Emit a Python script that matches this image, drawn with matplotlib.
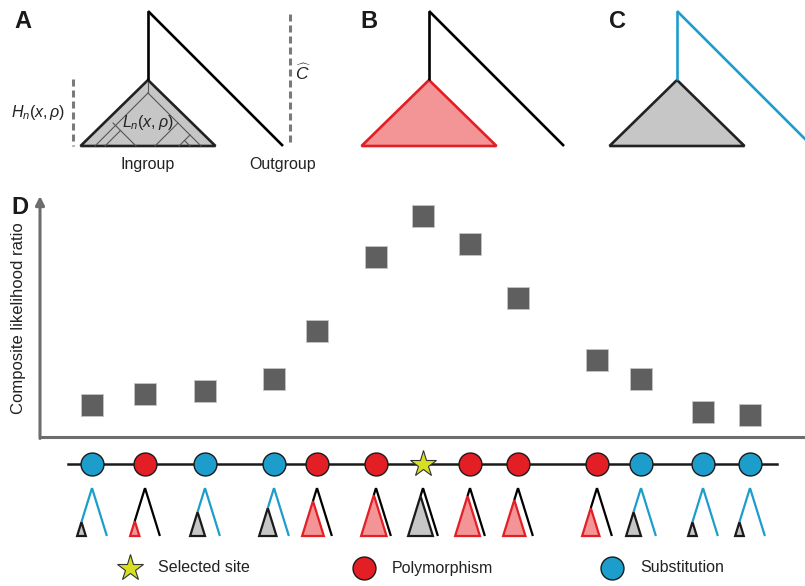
import matplotlib.pyplot as plt
from matplotlib.patches import Polygon

plt.rcParams['font.family'] = ['Liberation Sans', 'DejaVu Sans']
plt.rcParams['mathtext.fontset'] = 'custom'
plt.rcParams['mathtext.rm'] = 'Liberation Sans'
plt.rcParams['mathtext.it'] = 'Liberation Sans:italic'
plt.rcParams['mathtext.bf'] = 'Liberation Sans:bold'

# sites along the sequence (x position, same units as the figure width)
site_pos = [92, 145, 205, 274, 317, 376, 423, 470, 518, 597, 641, 703, 750]
site_kind = ['sub', 'poly', 'sub', 'sub', 'poly', 'poly', 'sel',
             'poly', 'poly', 'poly', 'sub', 'sub', 'sub']
# composite likelihood ratio at each site (relative units)
clr = [0.135, 0.181, 0.194, 0.245, 0.447, 0.759, 0.932,
       0.814, 0.586, 0.325, 0.245, 0.105, 0.093]
# height of the ingroup subtree in the little genealogy under each site
ingroup_h = [14, 15, 24, 28, 35, 41, 40, 40, 36, 28, 24, 14, 14]

legend_labels = ['Selected site', 'Polymorphism', 'Substitution']

BLUE = '#1c9dcc'
RED = '#e31e24'
LRED = '#f39597'
GRAY = '#c6c6c6'
STAR = '#d7df23'
AXC = '#6d6d6d'
SQ = '#5e5f5e'

W, H = 805, 586
fig = plt.figure(figsize=(W / 100, H / 100), dpi=100)

# ---- panel D: likelihood ratio along the sequence
axd = fig.add_axes([40 / W, (H - 437) / H, (W - 40) / W, (437 - 196) / H])
axd.set_xlim(40, W)
axd.set_ylim(0, 241 / 237)
axd.axis('off')
axd.plot(site_pos, clr, ls='none', marker='s', ms=15.6, color=SQ,
         mec='#c4c4c4', mew=0.6, clip_on=False)
axd.annotate('', xy=(0, 1.0), xytext=(0, -0.006), xycoords='axes fraction',
             arrowprops=dict(arrowstyle='-|>', lw=2.2, color=AXC,
                             mutation_scale=13, shrinkA=0, shrinkB=0))
axd.plot([0, 1], [0, 0], transform=axd.transAxes, color=AXC, lw=2.2,
         clip_on=False, solid_capstyle='butt')

# ---- overlay in pixel units for the schematic parts
ax = fig.add_axes([0, 0, 1, 1])
ax.set_xlim(0, W)
ax.set_ylim(H, 0)
ax.axis('off')


def big_tree(x0, leg_col, tri_fc, tri_ec, top=11, apex=80, base=146, half=67.5):
    ax.plot([x0, x0], [top, apex], color=leg_col, lw=1.9, solid_capstyle='butt')
    d = base - top
    ax.plot([x0, x0 + d], [top, base], color=leg_col, lw=1.9, solid_capstyle='butt',
            clip_on=False)
    ax.add_patch(Polygon([(x0, apex), (x0 - half, base), (x0 + half, base)],
                         closed=True, fc=tri_fc, ec=tri_ec, lw=1.9, joinstyle='miter'))


big_tree(148, 'black', GRAY, '#222222')
big_tree(429, 'black', LRED, RED)
big_tree(677, BLUE, GRAY, '#222222')

# genealogy lines inside the ingroup of panel A
inner = [
    [(148, 82), (148, 93)],
    [(148, 93), (95, 146)],
    [(148, 93), (201, 146)],
    [(113, 123), (136, 146)],
    [(105, 146), (120.5, 130.5)],
    [(178, 123), (155, 146)],
    [(190, 135), (179, 146)],
    [(184.5, 140.5), (190, 146)],
]
for seg in inner:
    ax.plot([p[0] for p in seg], [p[1] for p in seg], color='#555555', lw=0.8)

ax.plot([73, 73], [79, 146], color='#7a7a7a', lw=2.2, dashes=(2.3, 1.3))
ax.plot([290, 290], [14, 146], color='#7a7a7a', lw=2.2, dashes=(2.3, 1.3))

fs = 11.5
ax.text(38, 113, r'$H_n(x,\rho)$', fontsize=fs, ha='center', va='center', color='#222222')
ax.text(148, 123, r'$L_n(x,\rho)$', fontsize=fs, ha='center', va='center', color='#222222')
ax.text(303, 73, r'$\widehat{C}$', fontsize=12.5, ha='center', va='center', color='#222222')
ax.text(148, 165, 'Ingroup', fontsize=fs, ha='center', va='center', color='#222222')
ax.text(283, 165, 'Outgroup', fontsize=fs, ha='center', va='center', color='#222222')

for lab, x, y in [('A', 23, 22), ('B', 369, 22), ('C', 617, 22), ('D', 20, 207)]:
    ax.text(x, y, lab, fontsize=17, fontweight='bold', ha='center', va='center',
            color='#1a1a1a')

ax.text(19, 318, 'Composite likelihood ratio', fontsize=12, rotation=90,
        ha='center', va='center', color='#222222')

# ---- sequence with sites
ax.plot([68, 777], [464, 464], color='#1a1a1a', lw=1.8, zorder=2)
for x, k in zip(site_pos, site_kind):
    if k == 'sel':
        ax.plot(x, 464, marker='*', ms=20, color=STAR, mec='#333333', mew=0.8, zorder=3)
    else:
        ax.plot(x, 464, marker='o', ms=16.5, color=BLUE if k == 'sub' else RED,
                mec='#1a1a1a', mew=1.0, zorder=3)


def mini_tree(cx, h, kind, top=488, bot=536, s=0.31):
    leg = BLUE if kind == 'sub' else 'black'
    if kind == 'poly':
        fc, ec = LRED, RED
    else:
        fc, ec = GRAY, '#1a1a1a'
    ty = bot - h
    tx = cx - s * (ty - top)
    ax.plot([cx, cx + s * (bot - top)], [top, bot], color=leg, lw=1.6,
            solid_capstyle='butt')
    ax.plot([cx, tx], [top, ty], color=leg, lw=1.6, solid_capstyle='butt')
    ax.add_patch(Polygon([(tx, ty), (tx - s * h, bot), (tx + s * h, bot)], closed=True,
                         fc=fc, ec=ec, lw=1.6, joinstyle='miter'))


for x, h, k in zip(site_pos, ingroup_h, site_kind):
    mini_tree(x, h, k)

# ---- legend
ax.plot(130, 568, marker='*', ms=20, color=STAR, mec='#333333', mew=0.8)
ax.plot(364, 568, marker='o', ms=16.5, color=RED, mec='#1a1a1a', mew=1.0)
ax.plot(612, 568, marker='o', ms=16.5, color=BLUE, mec='#1a1a1a', mew=1.0)
for lab, x in zip(legend_labels, [158, 392, 640]):
    ax.text(x, 568, lab, fontsize=fs, ha='left', va='center', color='#222222')

fig.savefig('out.png', dpi=100)
